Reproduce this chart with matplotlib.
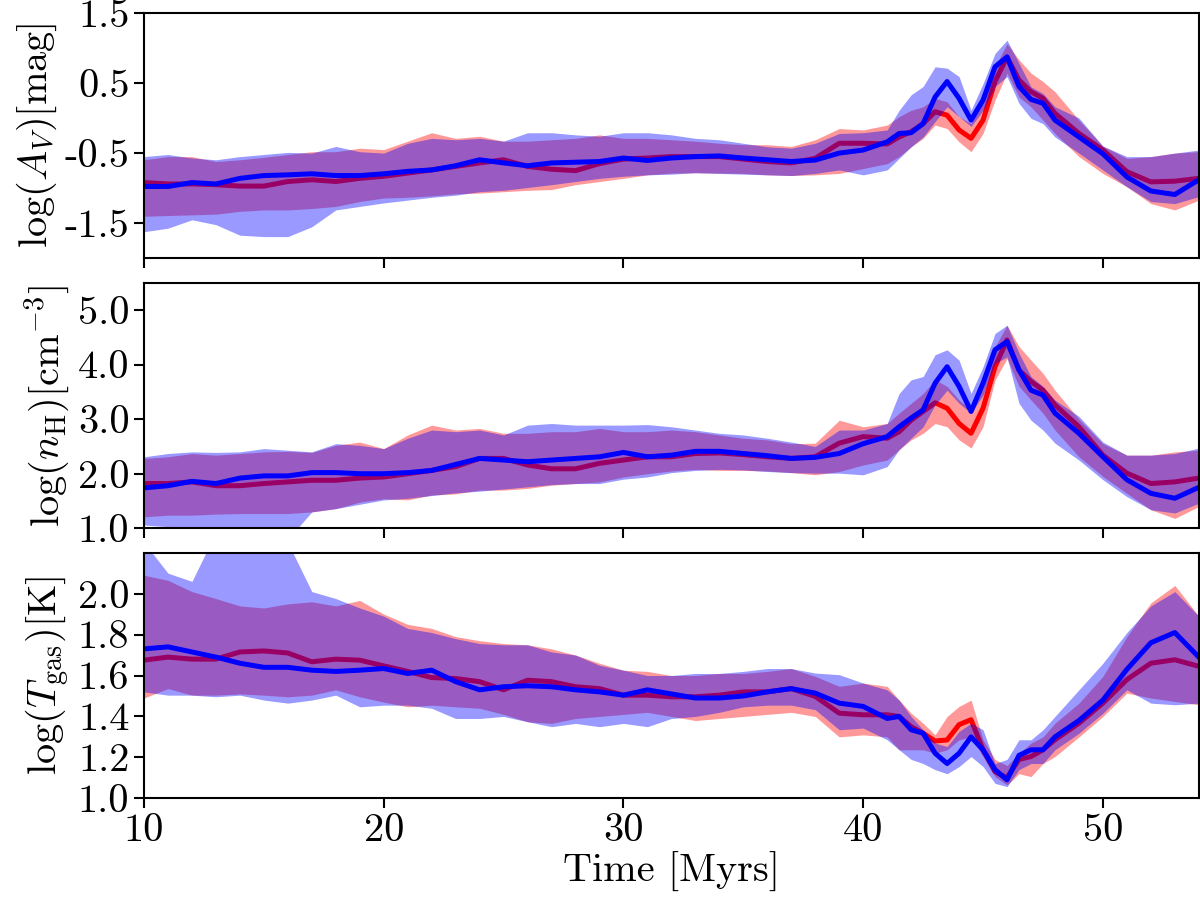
import matplotlib
matplotlib.use("Agg")
import matplotlib.pyplot as plt
import numpy as np

plt.rcParams['font.family'] = 'serif'
plt.rcParams['font.serif'] = ['cmr10']
plt.rcParams['mathtext.fontset'] = 'cm'
plt.rcParams['axes.formatter.use_mathtext'] = True

# ---- data ----
time = [10, 11, 12, 13, 14, 15, 16, 17, 18, 19, 20, 21, 22, 23, 24, 25, 26, 27,
        28, 29, 30, 31, 32, 33, 34, 35, 36, 37, 38, 39, 40, 41,
        41.5, 42, 42.5, 43, 43.5, 44, 44.5, 45, 45.5, 46, 46.5, 47, 47.5, 48,
        49, 50, 51, 52, 53, 54]

# Panel 1: log(A_V)
av_red = [-0.92, -0.94, -0.94, -0.95, -0.97, -0.97, -0.905, -0.88, -0.905, -0.86, -0.83, -0.785,
          -0.74, -0.69, -0.64, -0.595, -0.69, -0.73, -0.75, -0.65, -0.585, -0.57, -0.55, -0.55,
          -0.55, -0.585, -0.62, -0.64,
          -0.575, -0.36, -0.36, -0.37,
          -0.27, -0.195, -0.08, 0.09, 0.04, -0.17, -0.29, -0.03, 0.52, 0.87, 0.54, 0.375, 0.28, 0.066,
          -0.22, -0.456, -0.765, -0.91, -0.90, -0.86]
av_red_hi = [-0.595, -0.55, -0.55, -0.62, -0.595, -0.56, -0.52, -0.48, -0.48, -0.43, -0.45, -0.33,
             -0.21, -0.29, -0.26, -0.33, -0.33, -0.31, -0.29, -0.24, -0.29, -0.29, -0.31, -0.33,
             -0.36, -0.38, -0.38, -0.405,
             -0.31, -0.15, -0.17, -0.10,
             0.02, 0.11, 0.16, 0.28, 0.23, 0.02, -0.08, 0.256, 0.73, 1.06, 0.83, 0.64, 0.52, 0.375,
             -0.03, -0.40, -0.575, -0.55, -0.50, -0.48]
av_red_lo = [-1.40, -1.39, -1.38, -1.37, -1.33, -1.31, -1.31, -1.29, -1.26, -1.19, -1.14, -1.13,
             -1.11, -1.08, -1.07, -1.05, -1.03, -1.02, -0.95, -0.905, -0.86, -0.81, -0.785, -0.78,
             -0.785, -0.79, -0.81, -0.82,
             -0.81, -0.79, -0.72, -0.65,
             -0.55, -0.41, -0.29, -0.10, -0.15, -0.34, -0.48, -0.22, 0.256, 0.64, 0.30, 0.16, -0.03, -0.22,
             -0.55, -0.79, -0.98, -1.22, -1.31, -1.17]
av_blue = [-0.976, -0.976, -0.92, -0.94, -0.86, -0.82, -0.81, -0.795, -0.82, -0.82, -0.795, -0.76,
           -0.74, -0.68, -0.595, -0.64, -0.68, -0.64, -0.63, -0.62, -0.57, -0.605, -0.57, -0.55,
           -0.54, -0.57, -0.595, -0.62,
           -0.60, -0.50, -0.456, -0.34,
           -0.22, -0.21, -0.08, 0.30, 0.52, 0.28, -0.03, 0.256, 0.73, 0.87, 0.45, 0.265, 0.21, -0.03,
           -0.27, -0.51, -0.84, -1.04, -1.09, -0.88]
av_blue_hi = [-0.55, -0.52, -0.57, -0.595, -0.55, -0.52, -0.49, -0.50, -0.405, -0.48, -0.50, -0.36,
              -0.29, -0.31, -0.29, -0.33, -0.21, -0.21, -0.24, -0.26, -0.21, -0.21, -0.24, -0.29,
              -0.31, -0.36, -0.41, -0.43,
              -0.36, -0.22, -0.21, -0.17,
              0.11, 0.33, 0.45, 0.73, 0.71, 0.59, 0.11, 0.49, 0.92, 1.11, 0.78, 0.445, 0.35, 0.16,
              0.0, -0.40, -0.55, -0.55, -0.50, -0.456]
av_blue_lo = [-1.62, -1.57, -1.45, -1.52, -1.67, -1.69, -1.69, -1.55, -1.31, -1.26, -1.21, -1.17,
              -1.13, -1.10, -1.05, -1.03, -0.99, -0.95, -0.905, -0.86, -0.83, -0.81, -0.80, -0.78,
              -0.79, -0.80, -0.81, -0.82,
              -0.79, -0.74, -0.81, -0.74,
              -0.575, -0.41, -0.27, -0.05, 0.16, 0.02, -0.12, 0.11, 0.45, 0.59, 0.21, -0.005, -0.08, -0.27,
              -0.50, -0.74, -0.98, -1.19, -1.22, -1.12]

# Panel 2: log(n_H)
nh_red = [1.82, 1.82, 1.85, 1.78, 1.78, 1.82, 1.85, 1.88, 1.88, 1.92, 1.94, 2.0,
          2.06, 2.13, 2.28, 2.28, 2.16, 2.09, 2.09, 2.19, 2.25, 2.31, 2.31, 2.37,
          2.38, 2.35, 2.31, 2.28,
          2.31, 2.56, 2.68, 2.65,
          2.77, 2.98, 3.14, 3.30, 3.20, 2.92, 2.74, 3.20, 3.96, 4.45, 3.90, 3.69, 3.53, 3.26,
          2.86, 2.34, 2.01, 1.82, 1.85, 1.92]
nh_red_hi = [2.28, 2.31, 2.37, 2.34, 2.37, 2.40, 2.41, 2.39, 2.52, 2.58, 2.46, 2.71,
             2.89, 2.80, 2.83, 2.74, 2.74, 2.77, 2.77, 2.83, 2.77, 2.77, 2.80, 2.77,
             2.71, 2.65, 2.62, 2.55,
             2.56, 2.98, 2.86, 2.92,
             3.11, 3.29, 3.47, 3.72, 3.60, 3.35, 3.17, 3.72, 4.33, 4.72, 4.33, 4.08, 3.84, 3.53,
             3.00, 2.55, 2.34, 2.34, 2.40, 2.43]
nh_red_lo = [1.21, 1.24, 1.24, 1.26, 1.27, 1.27, 1.27, 1.30, 1.36, 1.48, 1.54, 1.52,
             1.61, 1.63, 1.70, 1.70, 1.73, 1.79, 1.82, 1.85, 1.94, 2.0, 2.05, 2.08,
             2.06, 2.06, 2.05, 2.02,
             1.98, 2.04, 2.16, 2.25,
             2.44, 2.62, 2.74, 2.92, 2.86, 2.62, 2.47, 2.86, 3.72, 4.11, 3.60, 3.35, 3.11, 2.80,
             2.31, 1.95, 1.64, 1.34, 1.18, 1.40]
nh_blue = [1.74, 1.78, 1.86, 1.82, 1.92, 1.96, 1.96, 2.02, 2.02, 2.0, 2.0, 2.02,
           2.06, 2.17, 2.28, 2.25, 2.22, 2.25, 2.28, 2.31, 2.39, 2.31, 2.34, 2.41,
           2.41, 2.37, 2.33, 2.28,
           2.30, 2.37, 2.55, 2.68,
           2.86, 3.02, 3.17, 3.66, 3.96, 3.60, 3.14, 3.66, 4.27, 4.42, 3.90, 3.53, 3.44, 3.11,
           2.74, 2.31, 1.89, 1.64, 1.55, 1.75]
nh_blue_hi = [2.31, 2.37, 2.40, 2.39, 2.40, 2.46, 2.43, 2.40, 2.55, 2.52, 2.46, 2.65,
              2.80, 2.77, 2.80, 2.71, 2.89, 2.92, 2.89, 2.89, 2.89, 2.90, 2.86, 2.80,
              2.74, 2.71, 2.65, 2.58,
              2.50, 2.80, 2.80, 2.92,
              3.47, 3.72, 3.78, 4.18, 4.27, 4.08, 3.47, 3.96, 4.57, 4.72, 4.21, 3.78, 3.60, 3.35,
              3.05, 2.58, 2.34, 2.34, 2.37, 2.47]
nh_blue_lo = [1.06, 1.03, 0.85, 0.80, 0.75, 0.75, 0.80, 1.30, 1.36, 1.44, 1.52, 1.55,
              1.60, 1.65, 1.68, 1.72, 1.76, 1.80, 1.82, 1.82, 1.90, 1.94, 2.02, 2.06,
              2.08, 2.07, 2.04, 2.02,
              2.01, 2.01, 1.98, 2.13,
              2.44, 2.65, 2.86, 3.26, 3.53, 3.29, 3.11, 3.44, 4.02, 4.14, 3.29, 2.98, 2.80, 2.56,
              2.25, 1.89, 1.58, 1.34, 1.28, 1.46]

# Panel 3: log(T_gas)
tg_red = [1.675, 1.69, 1.68, 1.68, 1.715, 1.72, 1.71, 1.667, 1.68, 1.675, 1.647, 1.62,
          1.59, 1.585, 1.57, 1.53, 1.577, 1.57, 1.545, 1.536, 1.504, 1.504, 1.496, 1.496,
          1.504, 1.52, 1.52, 1.536,
          1.498, 1.416, 1.408, 1.408,
          1.40, 1.35, 1.318, 1.28, 1.285, 1.36, 1.384, 1.237, 1.13, 1.10, 1.19, 1.204, 1.237, 1.286,
          1.367, 1.465, 1.58, 1.66, 1.677, 1.645]
tg_red_hi = [2.09, 2.065, 2.01, 1.976, 1.94, 1.93, 1.95, 1.96, 1.94, 1.967, 1.90, 1.85,
             1.83, 1.79, 1.77, 1.756, 1.75, 1.73, 1.70, 1.66, 1.626, 1.62, 1.60, 1.60,
             1.61, 1.61, 1.62, 1.634,
             1.596, 1.547, 1.563, 1.547,
             1.48, 1.416, 1.367, 1.31, 1.40, 1.449, 1.48, 1.286, 1.19, 1.16, 1.22, 1.27, 1.30, 1.367,
             1.465, 1.596, 1.79, 1.955, 2.04, 1.89]
tg_red_lo = [1.49, 1.536, 1.504, 1.504, 1.51, 1.504, 1.496, 1.504, 1.53, 1.496, 1.47, 1.447,
             1.455, 1.447, 1.44, 1.41, 1.374, 1.366, 1.39, 1.40, 1.41, 1.42, 1.40, 1.38,
             1.39, 1.40, 1.41, 1.42,
             1.40, 1.30, 1.31, 1.30,
             1.237, 1.237, 1.237, 1.22, 1.237, 1.286, 1.30, 1.204, 1.106, 1.065, 1.12, 1.106, 1.17, 1.204,
             1.30, 1.40, 1.514, 1.49, 1.473, 1.457]
tg_blue = [1.73, 1.74, 1.715, 1.69, 1.66, 1.64, 1.64, 1.626, 1.62, 1.626, 1.634, 1.61,
           1.626, 1.57, 1.53, 1.545, 1.55, 1.545, 1.53, 1.52, 1.504, 1.53, 1.51, 1.49,
           1.49, 1.50, 1.52, 1.536,
           1.514, 1.465, 1.449, 1.39,
           1.40, 1.335, 1.318, 1.22, 1.17, 1.22, 1.30, 1.237, 1.14, 1.09, 1.21, 1.237, 1.237, 1.30,
           1.38, 1.48, 1.63, 1.76, 1.81, 1.69]
tg_blue_hi = [2.25, 2.10, 2.06, 2.30, 2.30, 2.30, 2.25, 2.01, 1.976, 1.93, 1.89, 1.83,
              1.81, 1.78, 1.756, 1.75, 1.75, 1.715, 1.70, 1.65, 1.626, 1.60, 1.60, 1.61,
              1.61, 1.62, 1.634, 1.634,
              1.612, 1.604, 1.563, 1.53,
              1.48, 1.40, 1.335, 1.27, 1.253, 1.327, 1.367, 1.335, 1.17, 1.19, 1.286, 1.286, 1.335, 1.40,
              1.53, 1.66, 1.81, 1.94, 2.01, 1.89]
tg_blue_lo = [1.52, 1.504, 1.504, 1.496, 1.504, 1.48, 1.465, 1.48, 1.504, 1.447, 1.455, 1.455,
              1.44, 1.39, 1.39, 1.40, 1.374, 1.35, 1.366, 1.35, 1.366, 1.35, 1.39, 1.40,
              1.42, 1.447, 1.455, 1.455,
              1.433, 1.335, 1.343, 1.286,
              1.237, 1.19, 1.17, 1.14, 1.12, 1.155, 1.204, 1.155, 1.073, 1.057, 1.14, 1.17, 1.17, 1.237,
              1.318, 1.416, 1.53, 1.465, 1.457, 1.465]

x_ticks = [10, 20, 30, 40, 50]
x_ticklabels = ["10", "20", "30", "40", "50"]
y_ticks = [[1.5, 0.5, -0.5, -1.5],
           [1.0, 2.0, 3.0, 4.0, 5.0],
           [1.0, 1.2, 1.4, 1.6, 1.8, 2.0]]
y_ticklabels = [["1.5", "0.5", "-0.5", "-1.5"],
                ["1.0", "2.0", "3.0", "4.0", "5.0"],
                ["1.0", "1.2", "1.4", "1.6", "1.8", "2.0"]]
y_limits = [(-2.0, 1.5), (1.0, 5.5), (1.0, 2.2)]
y_labels = [r'$\log(A_V)[\mathrm{mag}]$',
            r'$\log(n_{\rm H})[\mathrm{cm}^{-3}]$',
            r'$\log(T_{\rm gas})[\mathrm{K}]$']
x_label = 'Time [Myrs]'

panels = [
    (av_red, av_red_lo, av_red_hi, av_blue, av_blue_lo, av_blue_hi),
    (nh_red, nh_red_lo, nh_red_hi, nh_blue, nh_blue_lo, nh_blue_hi),
    (tg_red, tg_red_lo, tg_red_hi, tg_blue, tg_blue_lo, tg_blue_hi),
]

fig = plt.figure(figsize=(12, 9.11), dpi=100)
left, width, height = 0.12, 0.879, 0.2696
bottoms = [0.7164, 0.4201, 0.1237]
fs = 29

for i, (r, rlo, rhi, b, blo, bhi) in enumerate(panels):
    ax = fig.add_axes([left, bottoms[i], width, height])
    ax.fill_between(time, rlo, rhi, color='red', alpha=0.4, linewidth=0, zorder=1)
    ax.plot(time, r, color='red', lw=3.6, zorder=2)
    ax.fill_between(time, blo, bhi, color='blue', alpha=0.4, linewidth=0, zorder=3)
    ax.plot(time, b, color='blue', lw=3.6, zorder=4)
    ax.set_xlim(10, 54)
    ax.set_ylim(*y_limits[i])
    ax.set_yticks(y_ticks[i])
    ax.set_yticklabels(y_ticklabels[i])
    ax.set_xticks(x_ticks)
    if i == 2:
        ax.set_xticklabels(x_ticklabels)
        ax.set_xlabel(x_label, fontsize=fs, labelpad=2)
    else:
        ax.set_xticklabels([])
    ax.set_ylabel(y_labels[i], fontsize=fs, labelpad=4)
    ax.tick_params(axis='both', labelsize=fs, length=7, width=1.5, direction='out')
    for s in ax.spines.values():
        s.set_linewidth(1.5)
        s.set_zorder(5)

fig.savefig('out.png', dpi=100)
